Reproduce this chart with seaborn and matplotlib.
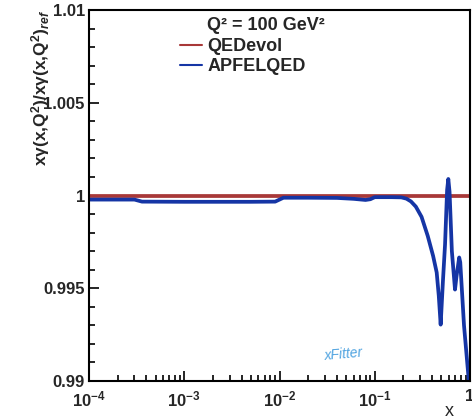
import matplotlib
matplotlib.use('Agg')
import numpy as np
import pandas as pd
import matplotlib.pyplot as plt
import seaborn as sns
from matplotlib.ticker import FixedLocator, FixedFormatter, LogLocator, MultipleLocator, NullFormatter

# ---------------- data ----------------
series_names = ['QEDevol', 'APFELQED']
series_colors = ['#a83838', '#1535a5']
legend_title = 'Q² = 100 GeV²'

x_qedevol = [1e-4, 1.0]
y_qedevol = [1.0, 1.0]

x_apfel = [1e-4, 3.0e-4, 3.6e-4, 1e-3, 5e-3, 9e-3, 1.1e-2, 2e-2, 4e-2, 6e-2, 8e-2, 9e-2,
           1e-1, 1.5e-1, 0.19, 0.215, 0.24, 0.27, 0.31, 0.36, 0.41, 0.447, 0.47, 0.492,
           0.52, 0.547, 0.575, 0.592, 0.61, 0.645, 0.696, 0.72, 0.77, 0.79, 0.865, 0.964, 0.985]
y_apfel = [0.99978, 0.99978, 0.99967, 0.99966, 0.99966, 0.99967, 0.99988, 0.99988, 0.99987,
           0.99982, 0.99976, 0.99980, 0.99991, 0.99991, 0.99990, 0.99983, 0.99968, 0.99940,
           0.99885, 0.99782, 0.99674, 0.99585, 0.99460, 0.99304, 0.99540, 0.99736, 1.00030,
           1.00089, 1.00020, 0.99700, 0.99493, 0.99560, 0.99666, 0.99640, 0.99300, 0.99022,
           0.98950]

yticks = [0.99, 0.995, 1.0, 1.005, 1.01]
ytick_labels = ['0.99', '0.995', '1', '1.005', '1.01']
xticks = [1e-4, 1e-3, 1e-2, 1e-1, 1.0]
xtick_labels = [r'$10^{-4}$', r'$10^{-3}$', r'$10^{-2}$', r'$10^{-1}$', '1']

ylabel = r'$x\gamma(x{,}Q^{2})/x\gamma(x{,}Q^{2})_{\mathit{ref}}$'
xlabel = 'x'
logo_text = 'xFitter'

# ---------------- style ----------------
sns.set_style('white')
plt.rcParams['font.family'] = ['Liberation Sans', 'DejaVu Sans']
plt.rcParams['font.weight'] = 'bold'
plt.rcParams['mathtext.fontset'] = 'custom'
plt.rcParams['mathtext.rm'] = 'Liberation Sans:bold'
plt.rcParams['mathtext.it'] = 'Liberation Sans:italic:bold'
plt.rcParams['mathtext.bf'] = 'Liberation Sans:bold'
plt.rcParams['mathtext.default'] = 'rm'

df = pd.DataFrame({
    'x': x_qedevol + x_apfel,
    'ratio': y_qedevol + y_apfel,
    'series': [series_names[0]] * len(x_qedevol) + [series_names[1]] * len(x_apfel),
})

fig = plt.figure(figsize=(4.72, 4.2), dpi=100)
ax = fig.add_axes([89 / 472, 39 / 420, 381 / 472, 371 / 420])

sns.lineplot(data=df, x='x', y='ratio', hue='series', hue_order=series_names,
             palette=dict(zip(series_names, series_colors)), estimator=None,
             sort=False, linewidth=2.7, ax=ax)

ax.set_xscale('log')
ax.set_xlim(1e-4, 1.0)
ax.set_ylim(0.99, 1.01)

for s in ax.spines.values():
    s.set_visible(True)
    s.set_color('black')
    s.set_linewidth(1.5)

ax.xaxis.set_major_locator(FixedLocator(xticks))
ax.xaxis.set_major_formatter(FixedFormatter(xtick_labels))
ax.xaxis.set_minor_locator(LogLocator(base=10, subs=np.arange(2, 10)))
ax.xaxis.set_minor_formatter(NullFormatter())
ax.yaxis.set_major_locator(FixedLocator(yticks))
ax.yaxis.set_major_formatter(FixedFormatter(ytick_labels))
ax.yaxis.set_minor_locator(MultipleLocator(0.001))

ax.tick_params(which='both', direction='in', top=False, right=False,
               bottom=True, left=True, color='black', width=1.2)
ax.tick_params(which='major', length=7.5, labelsize=12)
ax.tick_params(axis='x', which='major', pad=6)
ax.tick_params(axis='y', which='major', pad=3)
ax.tick_params(which='minor', length=4)

ax.set_ylabel(ylabel, fontsize=12.5, loc='top')
ax.yaxis.set_label_coords(-0.098, 1.0)
ax.set_xlabel(xlabel, fontsize=13, loc='right')
ax.xaxis.set_label_coords(0.958, -0.058)

handles, labels = ax.get_legend_handles_labels()
leg = ax.legend(handles, labels, loc='upper left', bbox_to_anchor=(0.239, 0.925),
                frameon=False, fontsize=13, handlelength=1.2, handletextpad=0.3,
                labelspacing=0.18, borderpad=0, borderaxespad=0)
for ln in leg.get_lines():
    ln.set_linewidth(1.5)

ax.text(0.3097, 0.957, legend_title, transform=ax.transAxes, ha='left', va='center',
        fontsize=13, fontweight='bold')

ax.text(0.669, 0.073, logo_text, transform=ax.transAxes, ha='center', va='center',
        fontsize=10, style='italic', fontweight='normal', color='#4fa3e0', rotation=5)

fig.savefig('out.png', dpi=100)
